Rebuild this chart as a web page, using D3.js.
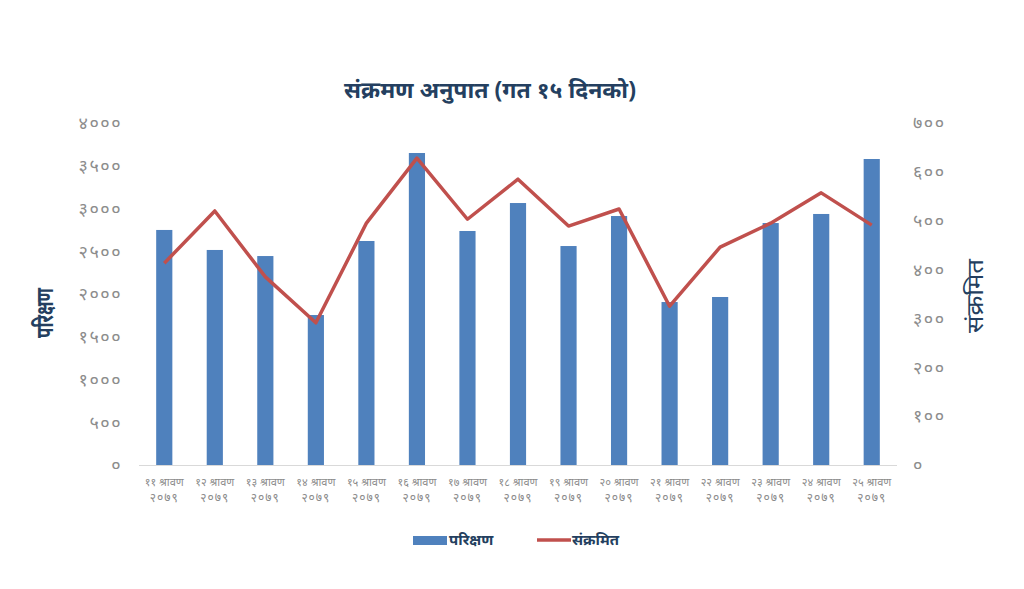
<!DOCTYPE html>
<html>
<head>
<meta charset="utf-8">
<script src="https://cdn.jsdelivr.net/npm/d3@7"></script>
<style>
  body { margin: 0; background: #fff; }
  text { font-family: "Noto Sans", "Noto Sans Devanagari", sans-serif; }
</style>
</head>
<body>
<svg id="chart" width="1024" height="589"></svg>
<script>
// data
const days = ['११ श्रावण', '१२ श्रावण', '१३ श्रावण', '१४ श्रावण', '१५ श्रावण', '१६ श्रावण', '१७ श्रावण',
  '१८ श्रावण', '१९ श्रावण', '२० श्रावण', '२१ श्रावण', '२२ श्रावण', '२३ श्रावण', '२४ श्रावण', '२५ श्रावण'];
const year = '२०७९';
const tests = [2749, 2515, 2444, 1754, 2620, 3649, 2737, 3064, 2561, 2912, 1906, 1965, 2830, 2936, 3579];
const infected = [413, 520, 385, 291, 495, 628, 503, 585, 489, 524, 325, 446, 495, 557, 491];
const leftTicks = [0, 500, 1000, 1500, 2000, 2500, 3000, 3500, 4000];
const rightTicks = [0, 100, 200, 300, 400, 500, 600, 700];

const devDigits = '०१२३४५६७८९';
const toDev = (n) => String(n).replace(/[0-9]/g, (c) => devDigits[+c]);

const svg = d3.select('#chart');
const plotL = 139, plotR = 897, plotT = 123, plotB = 465;
const navy = '#243f60';
const tickGray = '#8c8c8c';

const x = d3.scaleBand().domain(d3.range(days.length)).range([plotL, plotR]).paddingInner(0.68).paddingOuter(0.34);
const yL = d3.scaleLinear().domain([0, 4000]).range([plotB, plotT]);
const yR = d3.scaleLinear().domain([0, 700]).range([plotB, plotT]);

// title
svg.append('text')
  .attr('x', 490).attr('y', 98)
  .attr('text-anchor', 'middle')
  .attr('font-size', 23).attr('font-weight', 'bold')
  .attr('fill', navy)
  .text('संक्रमण अनुपात (गत १५ दिनको)');

// bars
svg.selectAll('rect.bar').data(tests).enter().append('rect')
  .attr('class', 'bar')
  .attr('x', (d, i) => x(i))
  .attr('y', (d) => yL(d))
  .attr('width', x.bandwidth())
  .attr('height', (d) => yL(0) - yL(d))
  .attr('fill', '#4f81bd');

// baseline
svg.append('line')
  .attr('x1', plotL).attr('x2', plotR)
  .attr('y1', plotB + 0.5).attr('y2', plotB + 0.5)
  .attr('stroke', '#d9d9d9').attr('stroke-width', 1);

// line
const line = d3.line()
  .x((d, i) => x(i) + x.bandwidth() / 2)
  .y((d) => yR(d));
svg.append('path')
  .datum(infected)
  .attr('d', line)
  .attr('fill', 'none')
  .attr('stroke', '#c0504d')
  .attr('stroke-width', 3.5)
  .attr('stroke-linejoin', 'round');

// left axis
const axL = svg.append('g').attr('transform', `translate(${plotL - 17},0)`)
  .call(d3.axisLeft(yL).tickValues(leftTicks).tickSize(0).tickPadding(0).tickFormat(toDev));
axL.select('.domain').remove();
axL.selectAll('text').attr('font-size', 18).attr('letter-spacing', 1.5)
  .attr('fill', tickGray).attr('font-family', '"Noto Sans", sans-serif');

// right axis
const axR = svg.append('g').attr('transform', `translate(${plotR + 16},0)`)
  .call(d3.axisRight(yR).tickValues(rightTicks).tickSize(0).tickPadding(0).tickFormat(toDev));
axR.select('.domain').remove();
axR.selectAll('text').attr('font-size', 18).attr('letter-spacing', 1.5)
  .attr('fill', tickGray).attr('font-family', '"Noto Sans", sans-serif');

// x labels
const xl = svg.append('g').selectAll('text').data(days).enter().append('text')
  .attr('text-anchor', 'middle')
  .attr('font-size', 11)
  .attr('fill', tickGray);
xl.append('tspan')
  .attr('x', (d, i) => x(i) + x.bandwidth() / 2)
  .attr('y', 486)
  .text((d) => d);
xl.append('tspan')
  .attr('x', (d, i) => x(i) + x.bandwidth() / 2)
  .attr('y', 502)
  .attr('font-size', 12)
  .attr('letter-spacing', 1)
  .text(year);

// axis titles
svg.append('text')
  .attr('transform', 'translate(53,313) rotate(-90)')
  .attr('text-anchor', 'middle')
  .attr('font-size', 24).attr('font-weight', 'bold')
  .attr('textLength', 50).attr('lengthAdjust', 'spacingAndGlyphs')
  .attr('fill', navy)
  .text('परिक्षण');
svg.append('text')
  .attr('transform', 'translate(983,296) rotate(-90)')
  .attr('text-anchor', 'middle')
  .attr('font-size', 23)
  .attr('textLength', 74).attr('lengthAdjust', 'spacingAndGlyphs')
  .attr('fill', navy)
  .text('संक्रमित');

// legend
const lg = svg.append('g');
lg.append('rect').attr('x', 413).attr('y', 536).attr('width', 34).attr('height', 9).attr('fill', '#4f81bd');
lg.append('text').attr('x', 449).attr('y', 545)
  .attr('font-size', 15).attr('font-weight', 'bold').attr('fill', navy).text('परिक्षण');
lg.append('line').attr('x1', 537).attr('x2', 571).attr('y1', 540).attr('y2', 540)
  .attr('stroke', '#c0504d').attr('stroke-width', 3.5);
lg.append('text').attr('x', 572).attr('y', 545)
  .attr('font-size', 15).attr('font-weight', 'bold').attr('fill', navy).text('संक्रमित');
</script>
</body>
</html>
